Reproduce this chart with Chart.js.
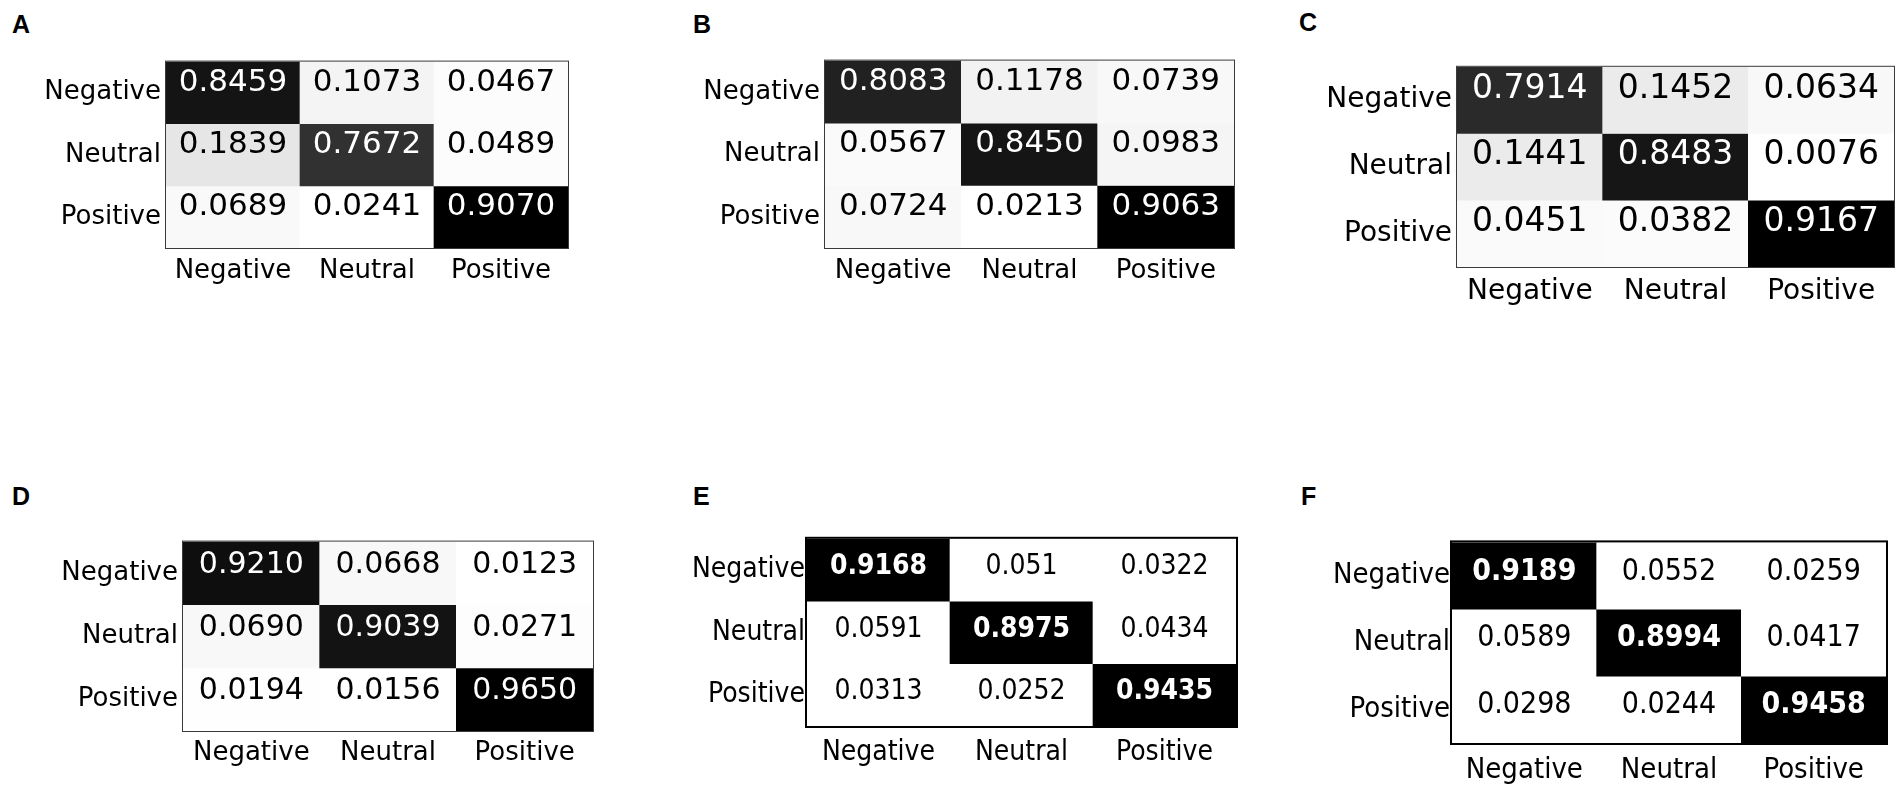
<!DOCTYPE html>
<html>
<head>
<meta charset="utf-8">
<script src="https://cdn.jsdelivr.net/npm/chart.js@4.4.1/dist/chart.umd.min.js"></script>
<style>
  html, body { margin: 0; padding: 0; background: #fff; }
  body { width: 1902px; height: 792px; position: relative; overflow: hidden; }
  .panel { position: absolute; }
  .letter { position: absolute; font: bold 25px "Liberation Sans", Arial, sans-serif; line-height: 25px; color: #000; }
</style>
</head>
<body>
<script>
// categories (rows = true class, columns = predicted class)
const categories = ['Negative', 'Neutral', 'Positive'];

// confusion matrices
const matrixA = [[0.8459, 0.1073, 0.0467], [0.1839, 0.7672, 0.0489], [0.0689, 0.0241, 0.9070]];
const matrixB = [[0.8083, 0.1178, 0.0739], [0.0567, 0.8450, 0.0983], [0.0724, 0.0213, 0.9063]];
const matrixC = [[0.7914, 0.1452, 0.0634], [0.1441, 0.8483, 0.0076], [0.0451, 0.0382, 0.9167]];
const matrixD = [[0.9210, 0.0668, 0.0123], [0.0690, 0.9039, 0.0271], [0.0194, 0.0156, 0.9650]];
const matrixE = [[0.9168, 0.051, 0.0322], [0.0591, 0.8975, 0.0434], [0.0313, 0.0252, 0.9435]];
const matrixF = [[0.9189, 0.0552, 0.0259], [0.0589, 0.8994, 0.0417], [0.0298, 0.0244, 0.9458]];

const panelLetters = ['A', 'B', 'C', 'D', 'E', 'F'];
const matrices = [matrixA, matrixB, matrixC, matrixD, matrixE, matrixF];

// layout / style of each panel (box = plot area left, top, right, bottom)
const mpl = '"DejaVu Sans", sans-serif';
const tah = '"DejaVu Sans Condensed", "DejaVu Sans", sans-serif';
const panelStyle = [
  { box: [166, 45, 568, 248], letter: [12, 12], font: mpl, label: 26, num: 31, binary: false, frame: 1, xpad: 8, ypad: 5, dy: -10 },
  { box: [825, 44, 1234, 248], letter: [693, 12], font: mpl, label: 26, num: 31, binary: false, frame: 1, xpad: 8, ypad: 5, dy: -10 },
  { box: [1457, 49, 1894, 267], letter: [1299, 10], font: mpl, label: 28, num: 33, binary: false, frame: 1, xpad: 8, ypad: 5, dy: -11 },
  { box: [183, 525, 593, 731], letter: [12, 484], font: mpl, label: 26, num: 30, binary: false, frame: 1, xpad: 7, ypad: 5, dy: -8 },
  { box: [807, 524, 1236, 726], letter: [693, 484], font: tah, label: 28, num: 28, binary: true, frame: 2, xpad: 10, ypad: 2, dy: -3 },
  { box: [1452, 527, 1886, 743], letter: [1301, 484], font: tah, label: 29, num: 30, binary: true, frame: 2, xpad: 10, ypad: 2, dy: -4 }
];

const YW = 170, XH = 50, PAD = 4;

// matplotlib "Greys" colormap
function greys(t) {
  const stops = [255, 240, 217, 189, 150, 115, 82, 37, 0];
  t = Math.max(0, Math.min(1, t)) * 8;
  const i = Math.min(7, Math.floor(t));
  const g = Math.round(stops[i] + (stops[i + 1] - stops[i]) * (t - i));
  return 'rgb(' + g + ',' + g + ',' + g + ')';
}

// writes the values in the cells and draws the frame
const cellText = {
  id: 'cellText',
  afterDatasetsDraw(chart) {
    const st = chart.options.plugins.cellText;
    const ctx = chart.ctx;
    ctx.save();
    ctx.textAlign = 'center';
    ctx.textBaseline = 'middle';
    chart.data.datasets.forEach(function(ds, i) {
      chart.getDatasetMeta(i).data.forEach(function(bar, j) {
        const v = ds.values[j];
        const dark = st.binary ? v > 0.5 : (v - st.min) / (st.max - st.min) > 0.5;
        ctx.fillStyle = dark ? '#fff' : '#000';
        ctx.font = ((st.binary && dark) ? 'bold ' : '') + st.num + 'px ' + st.font;
        const txt = st.binary ? String(v) : v.toFixed(4);
        ctx.fillText(txt, bar.x, (bar.y + bar.base) / 2 + st.dy);
      });
    });
    const a = chart.chartArea;
    ctx.strokeStyle = st.binary ? '#000' : '#3a3a3a';
    ctx.lineWidth = st.frame;
    ctx.strokeRect(a.left - st.frame / 2, a.top - st.frame / 2, a.right - a.left + st.frame, a.bottom - a.top + st.frame);
    ctx.restore();
  }
};

function makePanel(k) {
  const values = matrices[k];
  const p = panelStyle[k];
  const [L, T, R, B] = p.box;
  const flat = values.flat();
  const min = Math.min.apply(null, flat), max = Math.max.apply(null, flat);

  const letter = document.createElement('div');
  letter.className = 'letter';
  letter.style.left = p.letter[0] + 'px';
  letter.style.top = p.letter[1] + 'px';
  letter.textContent = panelLetters[k];
  document.body.appendChild(letter);

  const wrap = document.createElement('div');
  wrap.className = 'panel';
  wrap.style.left = (L - YW) + 'px';
  wrap.style.top = (T - PAD) + 'px';
  wrap.style.width = (R - L + YW + PAD) + 'px';
  wrap.style.height = (B - T + PAD + XH) + 'px';
  const canvas = document.createElement('canvas');
  wrap.appendChild(canvas);
  document.body.appendChild(wrap);

  const datasets = values.map(function(row, r) {
    return {
      label: categories[r],
      data: row.map(function() { return [r, r + 1]; }),
      values: row,
      backgroundColor: row.map(function(v) {
        return p.binary ? (v > 0.5 ? '#000' : '#fff') : greys((v - min) / (max - min));
      }),
      borderWidth: 0,
      borderSkipped: false,
      barPercentage: 1,
      categoryPercentage: 1,
      grouped: false
    };
  });

  new Chart(canvas, {
    type: 'bar',
    data: { labels: categories, datasets: datasets },
    options: {
      responsive: true,
      maintainAspectRatio: false,
      animation: false,
      events: [],
      layout: { padding: { top: PAD, right: PAD, left: 0, bottom: 0 } },
      plugins: {
        legend: { display: false },
        tooltip: { enabled: false },
        cellText: { binary: p.binary, min: min, max: max, num: p.num, font: p.font, dy: p.dy, frame: p.frame }
      },
      scales: {
        x: {
          type: 'category',
          offset: true,
          grid: { display: false, drawTicks: false },
          border: { display: false },
          ticks: { color: '#000', padding: p.xpad, maxRotation: 0, autoSkip: false, font: { family: p.font, size: p.label } },
          afterFit: function(s) { s.height = XH; }
        },
        y: {
          type: 'linear',
          min: 0,
          max: 3,
          reverse: true,
          grid: { display: false, drawTicks: false },
          border: { display: false },
          afterBuildTicks: function(s) { s.ticks = categories.map(function(c, i) { return { value: i + 0.5 }; }); },
          ticks: {
            color: '#000', padding: p.ypad, font: { family: p.font, size: p.label },
            callback: function(v) { return categories[Math.floor(v)]; }
          },
          afterFit: function(s) { s.width = YW; }
        }
      }
    },
    plugins: [cellText]
  });
}

for (let k = 0; k < matrices.length; k++) makePanel(k);
</script>
</body>
</html>
